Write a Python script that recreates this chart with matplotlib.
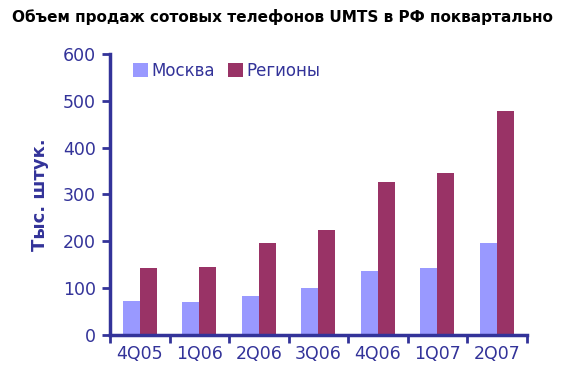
import numpy as np
from matplotlib import pyplot as plt

quarters = ['4Q05', '1Q06', '2Q06', '3Q06', '4Q06', '1Q07', '2Q07']
moscow = [73, 71, 83, 100, 137, 143, 196]
regions = [143, 145, 196, 224, 327, 346, 478]

NAVY = '#333399'
fig = plt.figure(figsize=(5.64, 3.88), dpi=100)
ax = fig.add_axes([0.195, 0.137, 0.739, 0.724])

x = np.arange(len(quarters))
w = 0.285
ax.bar(x - w / 2, moscow, w, color='#9999FF', label='Москва')
ax.bar(x + w / 2, regions, w, color='#993366', label='Регионы')

ax.set_xlim(-0.5, len(quarters) - 0.5)
ax.set_ylim(0, 600)
ax.set_yticks(range(0, 601, 100))
ax.set_xticks(x)
ax.set_xticklabels(quarters)
# category boundary ticks on x axis
ax.set_xticks(np.arange(-0.5, len(quarters), 1), minor=True)
ax.tick_params(axis='x', which='major', length=0, pad=7, labelsize=12.5, labelcolor=NAVY)
ax.tick_params(axis='x', which='minor', length=6, width=2, color=NAVY, direction='out')
ax.tick_params(axis='y', length=6, width=2, color=NAVY, labelsize=12.5, labelcolor=NAVY, pad=4)

for s in ['top', 'right']:
    ax.spines[s].set_visible(False)
for s in ['left', 'bottom']:
    ax.spines[s].set_color(NAVY)
    ax.spines[s].set_linewidth(2.5)

ax.set_ylabel('Тыс. штук.', fontsize=13, fontweight='bold', color=NAVY, labelpad=10)
fig.text(0.5, 0.955, 'Объем продаж сотовых телефонов UMTS в РФ поквартально',
         ha='center', va='center', fontsize=11, fontweight='bold')

leg = ax.legend(loc='upper left', bbox_to_anchor=(0.02, 1.025), ncol=2, frameon=False,
                handlelength=0.9, handleheight=0.9, handletextpad=0.2, columnspacing=0.8,
                fontsize=12)
for t in leg.get_texts():
    t.set_color(NAVY)

fig.savefig('out.png', dpi=100)
